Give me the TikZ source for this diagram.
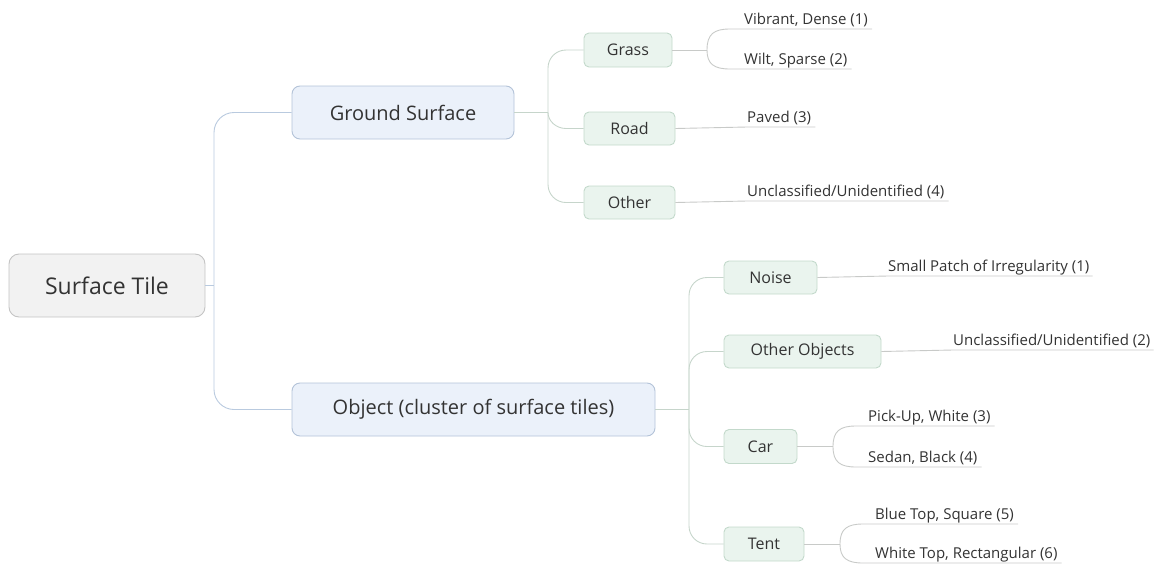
\documentclass[tikz,border=0pt]{standalone}
\usepackage{fontspec}
\setmainfont{Open Sans}
\definecolor{txt}{HTML}{333333}
\definecolor{rootfill}{HTML}{F2F2F2}
\definecolor{rootdraw}{HTML}{C4C4C4}
\definecolor{mainfill}{HTML}{EBF1FA}
\definecolor{maindraw}{HTML}{B3C3D8}
\definecolor{subfill}{HTML}{EAF4EE}
\definecolor{subdraw}{HTML}{C3D9CB}
\definecolor{trunkline}{HTML}{B9CADF}
\definecolor{subline}{HTML}{C6D5CB}
\definecolor{leafline}{HTML}{C8CAC8}
\begin{document}
\begin{tikzpicture}[x=1pt,y=-1pt,
  rootbox/.style={draw=rootdraw,fill=rootfill,rounded corners=10pt,line width=0.9pt,
    inner sep=0pt,text=txt,font=\fontsize{23}{27}\selectfont},
  mainbox/.style={draw=maindraw,fill=mainfill,rounded corners=8pt,line width=0.9pt,
    inner sep=0pt,minimum height=53pt,text=txt,font=\fontsize{20}{24}\selectfont},
  subbox/.style={draw=subdraw,fill=subfill,rounded corners=5pt,line width=0.9pt,
    inner sep=0pt,minimum height=33pt,text=txt,font=\fontsize{16}{19}\selectfont},
  leaf/.style={inner xsep=0pt,inner ysep=0pt,text depth=4.5pt,anchor=south west,
    text=txt,font=\fontsize{15}{18}\selectfont},
  trunk/.style={draw=trunkline,line width=0.9pt},
  subl/.style={draw=subline,line width=0.9pt},
  leafl/.style={draw=leafline,line width=0.9pt},
]
\useasboundingbox (0,0) rectangle (1160,568);

% topic boxes
\node[rootbox,minimum width=196pt,minimum height=63pt] (root) at (107,285.5) {Surface Tile};
\node[mainbox,minimum width=222pt] (gs) at (403,112.5) {Ground Surface};
\node[mainbox,minimum width=363pt] (obj) at (473.5,409.5) {Object (cluster of surface tiles)};

\node[subbox,minimum width=88pt,minimum height=34pt] (grass) at (628,50) {Grass};
\node[subbox,minimum width=91pt] (road) at (629.5,128.5) {Road};
\node[subbox,minimum width=91pt] (other) at (629.5,202.5) {Other};

\node[subbox,minimum width=93pt] (noise) at (770.5,277.5) {Noise};
\node[subbox,minimum width=157pt] (otherobj) at (802.5,351.5) {Other Objects};
\node[subbox,minimum width=73pt,minimum height=34pt] (car) at (760.5,446.5) {Car};
\node[subbox,minimum width=80pt,minimum height=34pt] (tent) at (764,544) {Tent};

% leaf labels, each sitting on its underline
\node[leaf] (v1) at (744,29) {Vibrant, Dense (1)};
\node[leaf] (v2) at (744,69) {Wilt, Sparse (2)};
\node[leaf] (p3) at (747,127) {Paved (3)};
\node[leaf] (u4) at (747,201) {Unclassified/Unidentified (4)};
\node[leaf] (n1) at (888,276) {Small Patch of Irregularity (1)};
\node[leaf] (u2) at (953,350) {Unclassified/Unidentified (2)};
\node[leaf] (c3) at (868,426) {Pick-Up, White (3)};
\node[leaf] (c4) at (868,467) {Sedan, Black (4)};
\node[leaf] (t5) at (875,524) {Blue Top, Square (5)};
\node[leaf] (t6) at (875,563) {White Top, Rectangular (6)};

% root to main topics
\coordinate (rj) at (214,285.5);
\draw[trunk] (root.east) -- (rj);
\draw[trunk] (rj) -- (214,132.5) .. controls (214,121.5) and (223,112.5) .. (234,112.5) -- (gs.west);
\draw[trunk] (rj) -- (214,389.5) .. controls (214,400.5) and (223,409.5) .. (234,409.5) -- (obj.west);

% ground surface branches
\coordinate (gj) at (548,112.5);
\draw[subl] (gs.east) -- (gj);
\draw[subl] (gj) -- (548,68) .. controls (548,58) and (556,50) .. (566,50) -- (grass.west);
\draw[subl] (gj) .. controls (548,121) and (556,128.5) .. (566,128.5) -- (road.west);
\draw[subl] (gj) -- (548,184.5) .. controls (548,194.5) and (556,202.5) .. (566,202.5) -- (other.west);

% object branches
\coordinate (oj) at (689,409.5);
\draw[subl] (obj.east) -- (oj);
\draw[subl] (oj) -- (689,295.5) .. controls (689,285.5) and (697,277.5) .. (707,277.5) -- (noise.west);
\draw[subl] (oj) -- (689,369.5) .. controls (689,359.5) and (697,351.5) .. (707,351.5) -- (otherobj.west);
\draw[subl] (oj) -- (689,428.5) .. controls (689,438.5) and (697,446.5) .. (707,446.5) -- (car.west);
\draw[subl] (oj) -- (689,526) .. controls (689,536) and (697,544) .. (707,544) -- (tent.west);

% grass leaves
\coordinate (gf) at (707,50);
\draw[leafl] (grass.east) -- (gf);
\draw[leafl] (gf) .. controls (707,34) and (714,29) .. (730,29) -- (v1.south west) -- ([xshift=4pt]v1.south east);
\draw[leafl] (gf) .. controls (707,64) and (714,69) .. (730,69) -- (v2.south west) -- ([xshift=4pt]v2.south east);

% single leaves
\draw[leafl] (road.east) -- (p3.south west) -- ([xshift=4pt]p3.south east);
\draw[leafl] (other.east) -- (u4.south west) -- ([xshift=4pt]u4.south east);
\draw[leafl] (noise.east) -- (n1.south west) -- ([xshift=3pt]n1.south east);
\draw[leafl] (otherobj.east) -- (u2.south west) -- ([xshift=3pt]u2.south east);

% car leaves
\coordinate (cf) at (833,446.5);
\draw[leafl] (car.east) -- (cf);
\draw[leafl] (cf) .. controls (833,431) and (840,426) .. (856,426) -- (c3.south west) -- ([xshift=4pt]c3.south east);
\draw[leafl] (cf) .. controls (833,462) and (840,467) .. (856,467) -- (c4.south west) -- ([xshift=4pt]c4.south east);

% tent leaves
\coordinate (tf) at (840,544);
\draw[leafl] (tent.east) -- (tf);
\draw[leafl] (tf) .. controls (840,529) and (847,524) .. (863,524) -- (t5.south west) -- ([xshift=4pt]t5.south east);
\draw[leafl] (tf) .. controls (840,558) and (847,563) .. (863,563) -- (t6.south west) -- ([xshift=4pt]t6.south east);
\end{tikzpicture}
\end{document}
